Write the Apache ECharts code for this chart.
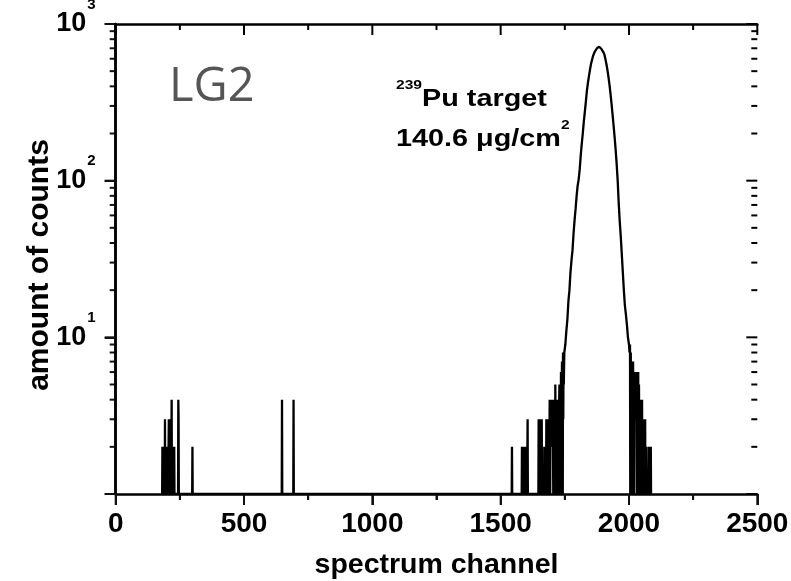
<!DOCTYPE html>
<html>
<head>
<meta charset="utf-8">
<script src="https://cdn.jsdelivr.net/npm/echarts@6/dist/echarts.min.js"></script>
<style>
html,body{margin:0;padding:0;background:#fff;}
#c{width:791px;height:581px;}
</style>
</head>
<body>
<div id="c"></div>
<script>
// ---- data (channel, counts); counts of 0/1 sit on the axis floor ----
const eventChannels = [181,182,183,184,185,186,187,188,189,190,191,192,193,194,195,196,197,198,199,200,201,203,204,205,206,207,208,209,210,211,212,213,214,215,216,217,218,219,220,221,222,223,224,225,226,227,228,229,243,244,245,246,298,299,300,647,648,649,692,693,694];
const eventCounts   = [1,2,1,2,1,2,1,2,1,2,1,3,1,2,1,2,1,2,1,2,1,1,2,1,2,3,1,2,3,1,3,2,1,3,1,2,4,1,2,1,2,1,2,1,2,1,2,1,1,4,3,1,1,2,1,1,4,1,1,4,1];

const leftTailChannels = [1543,1544,1545,1582,1583,1584,1586,1587,1589,1590,1592,1593,1595,1596,1601,1602,1603,1605,1606,1647,1648,1649,1651,1652,1654,1655,1657,1658,1660,1661,1669,1670,1671,1673,1674,1676,1677,1678,1679,1681,1682,1683,1685,1686,1687,1688,1689,1691,1692,1693,1694,1695,1697,1698,1700,1701,1703,1704,1705,1706,1707,1708,1710,1711,1712,1713,1714,1715,1716,1717,1718,1719,1720,1721,1722,1723,1724,1725,1726,1728,1729,1730,1732,1733,1734,1735,1736,1737,1738,1739,1740,1741,1742,1743,1744,1745,1746];
const leftTailCounts   = [1,2,1,1,2,1,2,1,2,1,2,1,2,1,1,2,1,3,1,1,3,1,2,1,3,1,2,1,3,1,1,2,1,2,1,2,1,3,1,2,3,1,3,2,1,3,1,4,2,1,3,2,4,2,3,2,4,2,1,3,4,1,3,2,1,5,2,1,4,3,1,4,2,1,3,4,1,3,1,4,5,1,5,3,1,6,4,1,5,7,2,6,1,8,3,7,5];

const peakChannels = [1748,1752,1756,1760,1764,1768,1772,1776,1780,1784,1788,1792,1796,1800,1804,1808,1812,1816,1820,1824,1828,1832,1836,1840,1844,1848,1852,1856,1860,1864,1868,1872,1876,1880,1884,1888,1892,1896,1900,1904,1908,1912,1916,1920,1924,1928,1932,1936,1940,1944,1948,1952,1956,1960,1964,1968,1972,1976,1980,1984,1988,1992,1996,2000];
const peakCounts   = [8,9,11,13,17,20,26,31,36,46,56,66,80,93,102,118,145,172,200,238,275,320,375,420,465,510,555,590,625,650,672,690,702,712,715,708,695,680,662,640,600,555,510,460,410,360,310,265,225,190,158,128,100,72,55,44,34,26,20,16,14,12,10,9];

const rightTailChannels = [2002,2004,2005,2007,2008,2010,2011,2013,2014,2016,2017,2019,2020,2022,2023,2024,2025,2026,2027,2028,2029,2030,2031,2033,2034,2036,2037,2039,2040,2042,2043,2045,2046,2048,2049,2051,2052,2054,2055,2057,2058,2060,2061,2063,2064,2066,2067,2075,2076,2077,2079,2080,2082,2083,2085,2086];
const rightTailCounts   = [8,9,1,8,2,7,1,6,2,7,1,6,1,6,4,5,3,6,4,5,3,6,1,5,2,6,1,5,2,4,1,4,2,3,1,4,1,3,1,3,2,3,1,3,1,2,1,1,2,1,2,1,2,1,2,1];

// ---- tick values ----
const xTicks = [0, 500, 1000, 1500, 2000, 2500];
const xMinorTicks = [250, 750, 1250, 1750, 2250];
const yTicks = [1, 10, 100, 1000];
const yMinorTicks = [2,3,4,5,6,7,8,9,20,30,40,50,60,70,80,90,200,300,400,500,600,700,800,900];

// ---- build the series from the arrays ----
function pairs(ch, ct){ return ch.map((c,i)=>[c, Math.max(ct[i],1)]); }
const spectrum = [].concat(
  pairs(eventChannels, eventCounts),
  pairs(leftTailChannels, leftTailCounts),
  pairs(peakChannels, peakCounts),
  pairs(rightTailChannels, rightTailCounts)
);

const FONT = '"Liberation Sans", Arial, Helvetica, sans-serif';
const INK = '#111';
const chart = echarts.init(document.getElementById('c'), null, {renderer:'canvas'});

function axisLine(){ return {show:true, lineStyle:{color:'#000', width:2.5}}; }
function xBase(){ return {
  type:'value', min:xTicks[0], max:xTicks[xTicks.length-1], interval:500,
  axisLine: axisLine(), splitLine:{show:false},
  axisTick:{show:false}, minorTick:{show:false}
};}
function yBase(){ return {
  type:'log', logBase:10, min:yTicks[0], max:yTicks[yTicks.length-1],
  axisLine: axisLine(), splitLine:{show:false},
  axisTick:{show:false}, minorTick:{show:false}
};}

chart.setOption({
  animation:false,
  grid:{left:115.7, right:33.7, top:24, bottom:87, containLabel:false, outerBoundsMode:'none'},
  xAxis:[
    Object.assign(xBase(), {
      position:'bottom',
      axisTick:{show:true, length:11, lineStyle:{color:INK, width:2}},
      minorTick:{show:true, splitNumber:2, length:6, lineStyle:{color:INK, width:2}},
      name:'spectrum channel', nameLocation:'middle', nameGap:57,
      nameTextStyle:{fontFamily:FONT, fontWeight:'bold', fontSize:28.5, color:'#000'},
      axisLabel:{fontFamily:FONT, fontWeight:'bold', fontSize:28, color:'#000', margin:16,
        formatter:function(v){ return String(v); }}
    }),
    Object.assign(xBase(), {position:'top', axisLabel:{show:false}})
  ],
  yAxis:[
    Object.assign(yBase(), {
      position:'left',
      axisTick:{show:true, length:11, lineStyle:{color:INK, width:2}},
      axisLabel:{
        margin:20,
        formatter:function(v){
          if (v <= 1) return '';
          const e = Math.round(Math.log10(v));
          return '{b|10}{s|' + e + '}';
        },
        rich:{
          b:{fontFamily:FONT, fontWeight:'bold', fontSize:27, color:'#000', lineHeight:54},
          s:{fontFamily:FONT, fontWeight:'bold', fontSize:15, color:'#000', verticalAlign:'top', padding:[0,0,0,1]}
        }
      }
    }),
    Object.assign(yBase(), {position:'right', axisLabel:{show:false}})
  ],
  series:[
    {
      type:'line', data:spectrum, xAxisIndex:0, yAxisIndex:0,
      showSymbol:false, symbol:'none', sampling:null,
      lineStyle:{color:'#000', width:2.3}, z:3
    }
  ]
});

// ---- ticks on all four sides, positioned through the axes' own scales ----
const X0 = chart.convertToPixel({xAxisIndex:0}, xTicks[0]);
const X1 = chart.convertToPixel({xAxisIndex:0}, xTicks[xTicks.length-1]);
const Y0 = chart.convertToPixel({yAxisIndex:0}, yTicks[0]);
const Y1 = chart.convertToPixel({yAxisIndex:0}, yTicks[yTicks.length-1]);
const MAJ = 11, MIN = 6;
const els = [];
function seg(x1,y1,x2,y2,col){ els.push({type:'line', shape:{x1:x1,y1:y1,x2:x2,y2:y2}, style:{stroke:col, lineWidth:2}}); }
xTicks.forEach(v=>{ const x = chart.convertToPixel({xAxisIndex:0}, v); seg(x, Y0, x, Y0+MAJ, '#121212'); seg(x, Y1, x, Y1+MAJ, '#000'); });
xMinorTicks.forEach(v=>{ const x = chart.convertToPixel({xAxisIndex:0}, v); seg(x, Y0, x, Y0+MIN, '#121212'); seg(x, Y1, x, Y1+MIN, '#000'); });
yTicks.forEach(v=>{ const y = chart.convertToPixel({yAxisIndex:0}, v); seg(X0-MAJ, y, X0, y, '#131313'); seg(X1-MAJ, y, X1, y, '#000'); });
yMinorTicks.forEach(v=>{ const y = chart.convertToPixel({yAxisIndex:0}, v); seg(X0-MIN, y, X0, y, '#131313'); seg(X1-MIN, y, X1, y, '#000'); });

els.push({type:'text', x:40, y:265, rotation:Math.PI/2, style:{text:'amount of counts', fontFamily:FONT, fontWeight:'bold', fontSize:30, fill:'#000', align:'center', verticalAlign:'middle'}});
els.push({type:'text', x:169, y:64, style:{text:'LG2', fontFamily:'"Open Sans", "Noto Sans", sans-serif', fontSize:47, fill:'#555'}});
els.push({type:'text', x:396, y:79, scaleX:1.2, scaleY:1, style:{
  text:'{s|239}{b|Pu target}\n{b|140.6 μg/cm}{s|2}',
  rich:{
    b:{fontFamily:FONT, fontWeight:'bold', fontSize:24, fill:'#000', lineHeight:40},
    s:{fontFamily:FONT, fontWeight:'bold', fontSize:13, fill:'#000', verticalAlign:'top'}
  }
}});
chart.setOption({graphic:els});
</script>
</body>
</html>
